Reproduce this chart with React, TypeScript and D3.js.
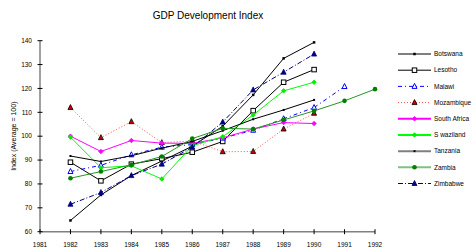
import * as d3 from "d3";

const years = [1982, 1983, 1984, 1985, 1986, 1987, 1988, 1989, 1990, 1991, 1992];
const xTicks = [1981, 1982, 1983, 1984, 1985, 1986, 1987, 1988, 1989, 1990, 1991, 1992];
const yTicks = [60, 70, 80, 90, 100, 110, 120, 130, 140];

const botswana = [64.7, 75.4, 83.5, 89.6, 95.8, 104.2, 117.3, 132.6, 139.3, null, null];
const lesotho = [89.1, 81.3, 88.3, 90.6, 93.3, 97.8, 110.7, 122.6, 127.9, null, null];
const malawi = [85.2, 87.8, 92.2, 95.4, 96.5, 99.2, 102.5, 107.3, 112.0, 120.8, null];
const mozambique = [112.0, 99.4, 106.1, 97.3, 98.0, 93.5, 93.6, 103.0, 109.6, null, null];
const southAfrica = [100.0, 93.6, 98.2, 97.1, 97.0, 99.3, 103.0, 105.7, 105.3, null, null];
const swaziland = [99.6, 86.8, 87.6, 82.1, 96.0, 99.8, 108.9, 119.0, 122.6, null, null];
const tanzania = [91.7, 89.4, 91.8, 95.0, 97.8, 102.3, 107.1, 111.0, 115.2, null, null];
const zambia = [82.4, 85.2, 88.0, 91.5, 99.0, 103.3, 103.0, 106.8, 110.6, 114.8, 119.7];
const zimbabwe = [71.5, 76.4, 83.5, 88.3, 95.4, 105.9, 119.4, 126.8, 134.4, null, null];

type Marker = "dot" | "square" | "openTri" | "tri" | "diamond" | "circle";
interface Series {
  name: string;
  values: (number | null)[];
  line: string;
  legendLine?: string;
  width: number;
  legendWidth?: number;
  dash?: string;
  marker: Marker;
  fill: string;
  stroke: string;
  size: number;
}

const series: Series[] = [
  { name: "Botswana", values: botswana, line: "#000", width: 1, marker: "dot", fill: "#000", stroke: "#000", size: 2.5 },
  { name: "Lesotho", values: lesotho, line: "#000", width: 1, marker: "square", fill: "#fff", stroke: "#000", size: 4.5 },
  { name: "Malawi", values: malawi, line: "#0000ff", width: 1, dash: "4,3,1,3", marker: "openTri", fill: "#fff", stroke: "#0000ff", size: 5 },
  { name: "Mozambique", values: mozambique, line: "#ff5050", width: 1, dash: "1,2", marker: "tri", fill: "#cc0000", stroke: "#000", size: 5 },
  { name: "South Africa", values: southAfrica, line: "#ff00ff", width: 1, legendWidth: 2, marker: "diamond", fill: "#ff00ff", stroke: "#ff00ff", size: 4.5 },
  { name: "Swaziland", values: swaziland, line: "#00ff00", width: 1, legendWidth: 2, marker: "diamond", fill: "#00ee00", stroke: "#00ee00", size: 4.5 },
  { name: "Tanzania", values: tanzania, line: "#000", legendLine: "#808080", width: 1, legendWidth: 2, marker: "dot", fill: "#000", stroke: "#000", size: 2 },
  { name: "Zambia", values: zambia, line: "#229922", legendLine: "#80c080", width: 1, legendWidth: 2, marker: "circle", fill: "#008000", stroke: "#008000", size: 2.3 },
  { name: "Zimbabwe", values: zimbabwe, line: "#000080", width: 1, dash: "5,2,1,2", marker: "tri", fill: "#000080", stroke: "#000080", size: 5 },
];

function MarkerShape({ s, x, y }: { s: Series; x: number; y: number }) {
  const r = s.size / 2;
  switch (s.marker) {
    case "dot":
      return <rect x={x - r} y={y - r} width={s.size} height={s.size} fill={s.fill} />;
    case "square":
      return <rect x={x - r} y={y - r} width={s.size} height={s.size} fill={s.fill} stroke={s.stroke} strokeWidth={1} />;
    case "openTri":
    case "tri":
      return (
        <path
          d={`M${x},${y - r - 0.5}L${x + r},${y + r - 0.5}L${x - r},${y + r - 0.5}Z`}
          fill={s.fill}
          stroke={s.stroke}
          strokeWidth={s.marker === "tri" ? 0.8 : 1}
        />
      );
    case "diamond":
      return <path d={`M${x},${y - r}L${x + r},${y}L${x},${y + r}L${x - r},${y}Z`} fill={s.fill} stroke={s.stroke} strokeWidth={0.8} />;
    case "circle":
      return <circle cx={x} cy={y} r={s.size} fill={s.fill} />;
  }
}

export default function App() {
  const width = 475;
  const height = 249;
  const x = d3.scaleLinear().domain([1981, 1992]).range([40, 375]);
  const y = d3.scaleLinear().domain([60, 140]).range([231.7, 40.7]);
  const axisColor = "#808080";
  const font = "Liberation Sans, Arial, sans-serif";

  const line = d3
    .line<number | null>()
    .defined((d) => d != null)
    .x((_, i) => x(years[i]))
    .y((d) => y(d as number));

  const legendX = 398;
  const legendY = d3.scalePoint<string>().domain(series.map((s) => s.name)).range([54, 183.5]);

  return (
    <svg width={width} height={height} style={{ position: "absolute", left: 0, top: 0, background: "#fff" }} fontFamily={font}>
      <text x={208} y={19} fontSize={10} textAnchor="middle" fill="#000">
        GDP Development Index
      </text>
      <text transform={`translate(16,${y(100)}) rotate(-90)`} fontSize={7} textAnchor="middle" fill="#000">
        Index (Average = 100)
      </text>

      {/* axes */}
      <line x1={x(1981)} x2={x(1981)} y1={y(140)} y2={y(60)} stroke={axisColor} strokeWidth={1.5} />
      <line x1={x(1981)} x2={x(1992)} y1={y(60)} y2={y(60)} stroke={axisColor} strokeWidth={1.5} />
      {yTicks.map((t) => (
        <g key={t}>
          <line x1={x(1981) - 2.5} x2={x(1981) + 2.5} y1={y(t)} y2={y(t)} stroke="#000" strokeWidth={1} />
          <text x={x(1981) - 8} y={y(t)} dy="0.35em" fontSize={6.5} textAnchor="end" fill="#000">
            {t}
          </text>
        </g>
      ))}
      {xTicks.map((t) => (
        <g key={t}>
          <line x1={x(t)} x2={x(t)} y1={y(60) - 2.5} y2={y(60) + 2.5} stroke="#000" strokeWidth={1} />
          <text x={x(t)} y={246.5} fontSize={6.5} textAnchor="middle" fill="#000">
            {t}
          </text>
        </g>
      ))}

      {/* series */}
      {series.map((s) => (
        <g key={s.name}>
          <path d={line(s.values) || ""} fill="none" stroke={s.line} strokeWidth={s.width} strokeDasharray={s.dash} />
          {s.values.map((v, i) => (v == null ? null : <MarkerShape key={i} s={s} x={x(years[i])} y={y(v)} />))}
        </g>
      ))}

      {/* legend */}
      {series.map((s) => {
        const ly = legendY(s.name) as number;
        return (
          <g key={s.name}>
            <line
              x1={legendX}
              x2={legendX + 33}
              y1={ly}
              y2={ly}
              stroke={s.legendLine || s.line}
              strokeWidth={s.legendWidth || s.width}
              strokeDasharray={s.dash}
            />
            <MarkerShape s={s} x={legendX + 16.5} y={ly} />
            <text x={legendX + 36} y={ly} dy="0.35em" fontSize={6.5} fill="#000">
              {s.name === "Swaziland" ? "S waziland" : s.name}
            </text>
          </g>
        );
      })}
    </svg>
  );
}
